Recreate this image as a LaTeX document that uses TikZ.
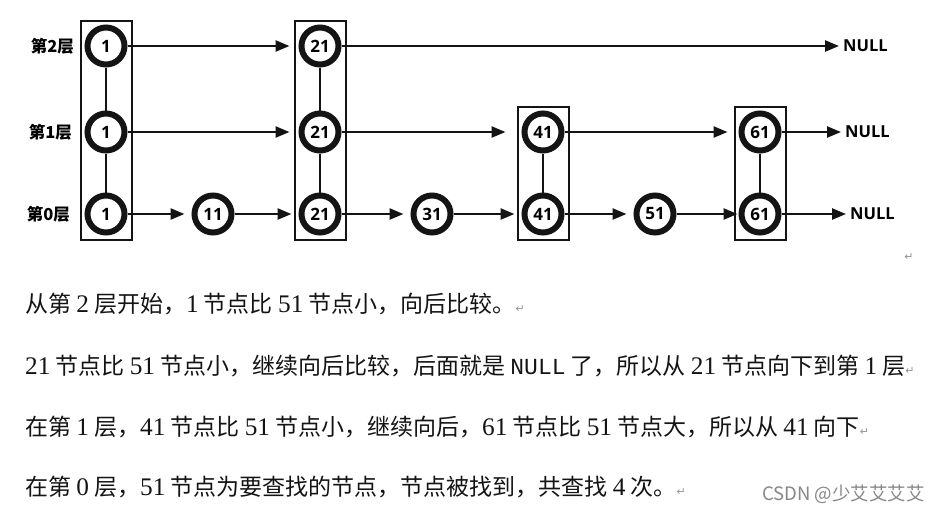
\documentclass[tikz,border=0pt]{standalone}
\usepackage{fontspec}
\usepackage{tikz}
\usepackage{xcolor}
\usetikzlibrary{arrows.meta,positioning,fit}
\setmainfont{Liberation Serif}
\newfontfamily\zhtext{Noto Sans CJK SC}[WordSpace=2.7]
\newfontfamily\zhsans{Noto Sans CJK SC}
\newfontfamily\digfont{Liberation Serif}[Scale=1.1]
\newfontfamily\nullword{Liberation Mono}
\newfontfamily\opensans{Open Sans}
\newfontfamily\symfont{DejaVu Sans}
\definecolor{ink}{RGB}{20,20,20}
\definecolor{markgrey}{RGB}{150,150,150}
\definecolor{wmgrey}{RGB}{135,135,135}
\newcommand{\digs}[1]{{\digfont #1}}
\newcommand{\pmark}{\textcolor{markgrey}{\symfont\fontsize{11}{11}\selectfont ↵}}
\tikzset{
  keynode/.style={circle,draw=ink,fill=white,line width=6pt,minimum size=37pt,inner sep=0pt,
    font=\opensans\bfseries\fontsize{17}{17}\selectfont},
  tower/.style={draw=ink,line width=2pt,inner xsep=4pt,inner ysep=4pt},
  link/.style={line width=2.5pt,draw=ink},
  arrow/.style={-{Triangle[length=14pt,width=11pt]},line width=2.5pt,draw=ink,shorten >=7pt},
  levellabel/.style={anchor=east,inner sep=0pt,font=\zhsans\bfseries\fontsize{16.5}{16.5}\selectfont},
  nulllabel/.style={anchor=west,inner sep=0pt,font=\opensans\bfseries\fontsize{16.5}{16.5}\selectfont},
  explain/.style={anchor=west,inner sep=0pt,text=ink,font=\zhtext\fontsize{23}{23}\selectfont},
  marknode/.style={inner sep=0pt,text=markgrey,font=\symfont\fontsize{11}{11}\selectfont}
}

\begin{document}
\begin{tikzpicture}[x=1pt,y=-1pt]
  \fill[white] (0,0) rectangle (948,515);
  \useasboundingbox (0,0) rectangle (948,515);

  % level labels
  \node[levellabel] (lv2) at (74,46) {第2层};
  \node[levellabel] (lv1) at (72,132) {第1层};
  \node[levellabel] (lv0) at (70,214) {第0层};

  % keys
  \node[keynode] (a2) at (106,46) {1};
  \node[keynode] (a1) at (106,132) {1};
  \node[keynode] (a0) at (106,214) {1};
  \node[keynode] (b0) at (213,214) {11};
  \node[keynode] (c2) at (320,46) {21};
  \node[keynode] (c1) at (320,132) {21};
  \node[keynode] (c0) at (320,214) {21};
  \node[keynode] (d0) at (432,214) {31};
  \node[keynode] (e1) at (543,132) {41};
  \node[keynode] (e0) at (543,214) {41};
  \node[keynode] (f0) at (655,214) {51};
  \node[keynode] (g1) at (760,132) {61};
  \node[keynode] (g0) at (760,214) {61};

  \node[nulllabel] (null2) at (843,46) {NULL};
  \node[nulllabel] (null1) at (845,132) {NULL};
  \node[nulllabel] (null0) at (850,214) {NULL};

  % towers
  \node[tower,fit=(a2)(a0)] (towerA) {};
  \node[tower,fit=(c2)(c0)] (towerC) {};
  \node[tower,fit=(e1)(e0)] (towerE) {};
  \node[tower,fit=(g1)(g0)] (towerG) {};

  \draw[link] (a2) -- (a1);
  \draw[link] (a1) -- (a0);
  \draw[link] (c2) -- (c1);
  \draw[link] (c1) -- (c0);
  \draw[link] (e1) -- (e0);
  \draw[link] (g1) -- (g0);

  % level 2
  \draw[arrow,shorten >=9pt] (a2) -- (c2);
  \draw[arrow,shorten >=4pt] (c2) -- (null2.west);
  % level 1
  \draw[arrow,shorten >=9pt] (a1) -- (c1);
  \draw[arrow,shorten >=16pt] (c1) -- (e1);
  \draw[arrow,shorten >=11pt] (e1) -- (g1);
  \draw[arrow,shorten >=4pt] (g1) -- (null1.west);
  % level 0
  \draw[arrow] (a0) -- (b0);
  \draw[arrow] (b0) -- (c0);
  \draw[arrow] (c0) -- (d0);
  \draw[arrow] (d0) -- (e0);
  \draw[arrow] (e0) -- (f0);
  \draw[arrow,shorten >=1pt] (f0) -- (g0);
  \draw[arrow,shorten >=4pt] (g0) -- (null0.west);

  \node[marknode] (pm0) at (909,257) {↵};

  % explanation
  \node[explain] (line1) at (25,304) {从第 \digs{2} 层开始，\digs{1} 节点比 \digs{51} 节点小，向后比较。\pmark};
  \node[explain] (line2) at (25,366) {\digs{21} 节点比 \digs{51} 节点小，继续向后比较，后面就是 {\nullword NULL} 了，所以从 \digs{21} 节点向下到第 \digs{1} 层\pmark};
  \node[explain] (line3) at (25,427) {在第 \digs{1} 层，\digs{41} 节点比 \digs{51} 节点小，继续向后，\digs{61} 节点比 \digs{51} 节点大，所以从 \digs{41} 向下\pmark};
  \node[explain] (line4) at (25,487) {在第 \digs{0} 层，\digs{51} 节点为要查找的节点，节点被找到，共查找 \digs{4} 次。\pmark};

  \node[anchor=west,inner sep=0pt,text=wmgrey,font=\zhsans\fontsize{18.5}{18.5}\selectfont] (wm) at (762,494) {CSDN @少艾艾艾艾};
\end{tikzpicture}
\end{document}
